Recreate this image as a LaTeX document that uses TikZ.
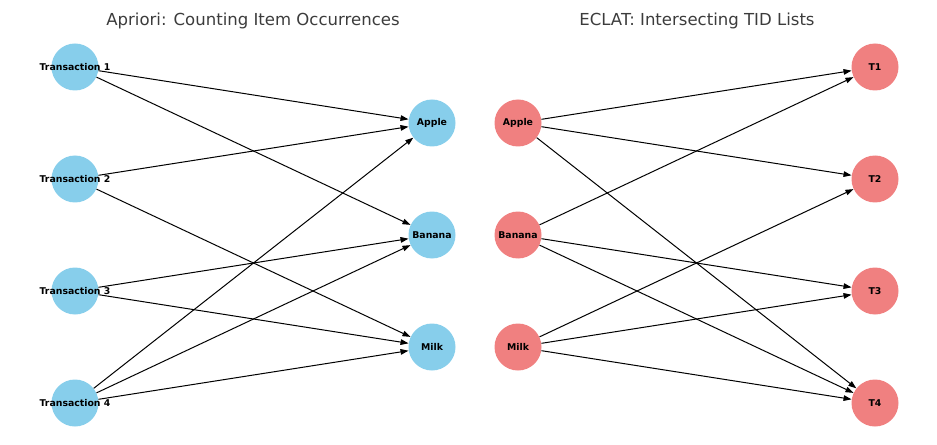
\documentclass[tikz,border=0pt]{standalone}
\usepackage{fontspec}
\setmainfont{DejaVu Sans}
\usetikzlibrary{arrows.meta}
\definecolor{skyblue}{RGB}{135,206,235}
\definecolor{lightcoral}{RGB}{240,128,128}
\definecolor{titlegray}{RGB}{60,60,60}
\begin{document}
\begin{tikzpicture}[x=0.75pt, y=-0.75pt,
		txnode/.style={circle, fill=skyblue, minimum size=35.25pt, inner sep=0pt},
		itemnode/.style={circle, fill=skyblue, minimum size=35.25pt, inner sep=0pt},
		tidnode/.style={circle, fill=lightcoral, minimum size=35.25pt, inner sep=0pt},
		every label/.style={font=\bfseries\fontsize{7}{8}\selectfont, inner sep=0pt},
		title/.style={font=\fontsize{12.4}{15}\selectfont, text=titlegray}]
		\useasboundingbox (0,0) rectangle (937,445);
		\node[title] (TL) at (253,21) {Apriori: Counting Item Occurrences};
		\node[title] (TR) at (697,21) {ECLAT: Intersecting TID Lists};
		% Apriori side
		\node (T1)[txnode, label=center:Transaction 1] at (75,67) {};
		\node (T2)[txnode, label=center:Transaction 2] at (75,179) {};
		\node (T3)[txnode, label=center:Transaction 3] at (75,291) {};
		\node (T4)[txnode, label=center:Transaction 4] at (75,403) {};
		\node (I1)[itemnode, label=center:Apple] at (432,123) {};
		\node (I2)[itemnode, label=center:Banana] at (432,235) {};
		\node (I3)[itemnode, label=center:Milk] at (432,347) {};
		% ECLAT side
		\node (E1)[tidnode, label=center:Apple] at (518,123) {};
		\node (E2)[tidnode, label=center:Banana] at (518,235) {};
		\node (E3)[tidnode, label=center:Milk] at (518,347) {};
		\node (D1)[tidnode, label=center:T1] at (875,67) {};
		\node (D2)[tidnode, label=center:T2] at (875,179) {};
		\node (D3)[tidnode, label=center:T3] at (875,291) {};
		\node (D4)[tidnode, label=center:T4] at (875,403) {};
		\begin{scope}[every edge/.style={draw, line width=0.75pt, -{Triangle[length=6pt, width=4.2pt]}}]
			\path (T1) edge (I1);
			\path (T1) edge (I2);
			\path (T2) edge (I1);
			\path (T2) edge (I3);
			\path (T3) edge (I2);
			\path (T3) edge (I3);
			\path (T4) edge (I1);
			\path (T4) edge (I2);
			\path (T4) edge (I3);
			\path (E1) edge (D1);
			\path (E1) edge (D2);
			\path (E1) edge (D4);
			\path (E2) edge (D1);
			\path (E2) edge (D3);
			\path (E2) edge (D4);
			\path (E3) edge (D2);
			\path (E3) edge (D3);
			\path (E3) edge (D4);
		\end{scope}
	\end{tikzpicture}
\end{document}
